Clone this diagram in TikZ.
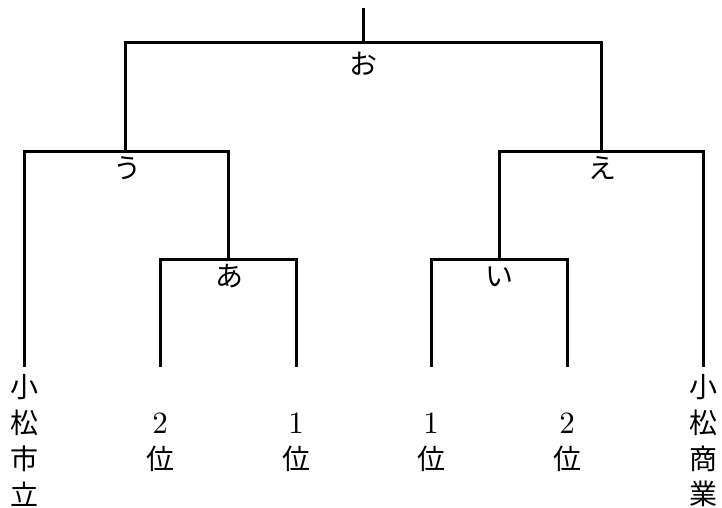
\documentclass[tikz,border=0pt]{standalone}
\usepackage{fontspec}
\newfontfamily\cjk{Noto Sans CJK JP}
\newfontfamily\dig{lmroman10-regular.otf}
\begin{document}
\begin{tikzpicture}[x=1pt,y=-1pt,
  bracket/.style={line width=3pt, line join=miter, line cap=butt},
  jp/.style={font=\cjk\fontsize{28}{28}\selectfont, inner sep=0pt, anchor=center},
  num/.style={font=\dig\fontsize{31}{31}\selectfont, inner sep=0pt, anchor=center}]
\useasboundingbox (0,0) rectangle (722,508);
% junction coordinates
\coordinate (top) at (363,8);
\coordinate (o) at (363,43);
\coordinate (oL) at (125,43);
\coordinate (oR) at (601,43);
\coordinate (u) at (125,151);
\coordinate (uL) at (24,151);
\coordinate (uR) at (228,151);
\coordinate (e) at (601,151);
\coordinate (eL) at (499,151);
\coordinate (eR) at (703,151);
\coordinate (a) at (228,259);
\coordinate (aL) at (160,259);
\coordinate (aR) at (296,259);
\coordinate (i) at (499,259);
\coordinate (iL) at (431,259);
\coordinate (iR) at (567,259);
\coordinate (l1) at (24,367);
\coordinate (l2) at (160,367);
\coordinate (l3) at (296,367);
\coordinate (l4) at (431,367);
\coordinate (l5) at (567,367);
\coordinate (l6) at (703,367);
% brackets
\draw[bracket] (top) -- (o);
\draw[bracket] (u) -- (oL) -- (oR) -- (e);
\draw[bracket] (l1) -- (uL) -- (uR) -- (a);
\draw[bracket] (i) -- (eL) -- (eR) -- (l6);
\draw[bracket] (l2) -- (aL) -- (aR) -- (l3);
\draw[bracket] (l4) -- (iL) -- (iR) -- (l5);
% match labels
\node[jp] (to) at (363,64) {お};
\node[jp] (tu) at (127,168) {う};
\node[jp] (te) at (602,168) {え};
\node[jp] (ta) at (229,276) {あ};
\node[jp] (ti) at (499,277) {い};
% leaves
\node[jp] (k1) at (24,387) {小};
\node[jp] (k2) at (24,423) {松};
\node[jp] (k3) at (24,459) {市};
\node[jp] (k4) at (24,494) {立};
\node[num] (n2a) at (160,423) {2};
\node[jp] (p2a) at (160,459) {位};
\node[num] (n1a) at (296,423) {1};
\node[jp] (p1a) at (296,459) {位};
\node[num] (n1b) at (431,423) {1};
\node[jp] (p1b) at (431,459) {位};
\node[num] (n2b) at (567,423) {2};
\node[jp] (p2b) at (567,459) {位};
\node[jp] (s1) at (703,387) {小};
\node[jp] (s2) at (703,423) {松};
\node[jp] (s3) at (703,459) {商};
\node[jp] (s4) at (703,494) {業};
\end{tikzpicture}
\end{document}
